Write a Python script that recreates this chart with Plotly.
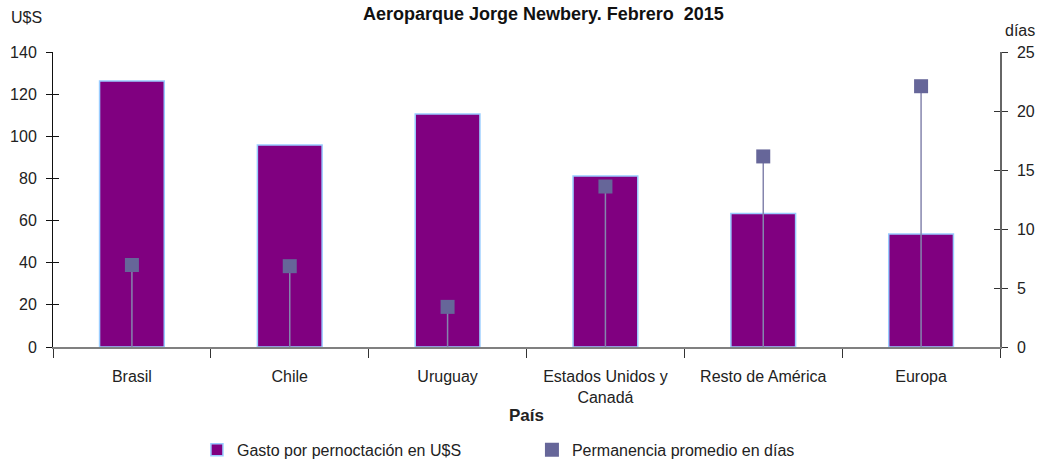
import plotly.graph_objects as go

# datos
paises = ["Brasil", "Chile", "Uruguay", "Estados Unidos y<br>Canadá", "Resto de América", "Europa"]
gasto_usd = [126.2, 95.9, 110.6, 81.2, 63.3, 53.6]
permanencia_dias = [6.95, 6.85, 3.4, 13.6, 16.15, 22.1]

FONT = "Liberation Sans, Arial, sans-serif"
BAR_COLOR = "#800080"
BAR_EDGE = "#99ccff"
MARK_COLOR = "#666699"
STEM_COLOR = "#8585ad"

fig = go.Figure()

fig.add_trace(go.Bar(
    x=paises, y=gasto_usd,
    name="Gasto por pernoctación en U$S",
    marker=dict(color=BAR_COLOR, line=dict(color=BAR_EDGE, width=1.5)),
    width=0.41,
))

# permanencia: marcador cuadrado con línea vertical hasta el eje
fig.add_trace(go.Scatter(
    x=paises, y=permanencia_dias,
    mode="markers",
    name="Permanencia promedio en días",
    yaxis="y2",
    marker=dict(symbol="square", size=14, color=MARK_COLOR),
    error_y=dict(type="data", symmetric=False,
                 array=[0] * len(permanencia_dias),
                 arrayminus=permanencia_dias,
                 width=0, thickness=1.5, color=STEM_COLOR),
))

# ejes auxiliares sólo para que las marcas crucen el eje (hacia adentro)
fig.add_trace(go.Scatter(x=[paises[0]], y=[0], yaxis="y3", mode="markers",
                         marker=dict(opacity=0), showlegend=False, hoverinfo="skip"))
fig.add_trace(go.Scatter(x=[paises[0]], y=[0], yaxis="y4", mode="markers",
                         marker=dict(opacity=0), showlegend=False, hoverinfo="skip"))

fig.update_layout(
    width=1037, height=459,
    margin=dict(l=53, r=37, t=52, b=112),
    paper_bgcolor="white", plot_bgcolor="white",
    font=dict(family=FONT, size=16, color="#222222"),
    title=dict(text="<b>Aeroparque Jorge Newbery. Febrero  2015</b>",
               x=0.524, xanchor="center", y=0.971, yanchor="middle",
               font=dict(size=18, color="#111111")),
    showlegend=True,
    legend=dict(orientation="h", xref="paper", x=0.152, xanchor="left",
                yref="container", y=0.02, yanchor="middle",
                font=dict(size=16), itemwidth=30, entrywidth=290,
                tracegroupgap=0),
    xaxis=dict(
        type="category", showgrid=False, automargin=False,
        showline=True, linecolor="#808080", linewidth=1.5,
        ticks="outside", tickson="boundaries", ticklen=9, tickcolor="#333333",
        ticklabelstandoff=14,
        title=dict(text="<b>País</b>", font=dict(size=17), standoff=4),
        tickfont=dict(size=16),
    ),
    yaxis=dict(
        range=[0, 140], dtick=20, showgrid=False, zeroline=False, automargin=False,
        showline=True, linecolor="#111111", linewidth=1,
        ticks="outside", ticklen=6, tickcolor="#111111",
        tickfont=dict(size=16), ticklabelstandoff=6,
    ),
    yaxis2=dict(
        range=[0, 25], dtick=5, overlaying="y", side="right",
        showgrid=False, zeroline=False, automargin=False,
        showline=True, linecolor="#666666", linewidth=1.5,
        ticks="outside", ticklen=6, tickcolor="#333333",
        tickfont=dict(size=16), ticklabelstandoff=6,
    ),
    yaxis3=dict(
        range=[0, 140], dtick=20, overlaying="y", side="left", automargin=False,
        showgrid=False, zeroline=False, showline=False,
        ticks="inside", ticklen=6, tickcolor="#111111", showticklabels=False,
    ),
    yaxis4=dict(
        range=[0, 25], dtick=5, overlaying="y", side="right", automargin=False,
        showgrid=False, zeroline=False, showline=False,
        ticks="inside", ticklen=6, tickcolor="#333333", showticklabels=False,
    ),
    annotations=[
        dict(text="U$S", xref="paper", yref="paper", x=-0.046, y=1.0,
             yshift=35, xanchor="left", yanchor="middle", showarrow=False,
             font=dict(size=16)),
        dict(text="días", xref="paper", yref="paper", x=1.003, y=1.0,
             yshift=22, xanchor="left", yanchor="middle", showarrow=False,
             font=dict(size=16)),
    ],
)

fig.write_html("out.html", config={"displayModeBar": False},
               post_script="document.body.style.margin='0';")
